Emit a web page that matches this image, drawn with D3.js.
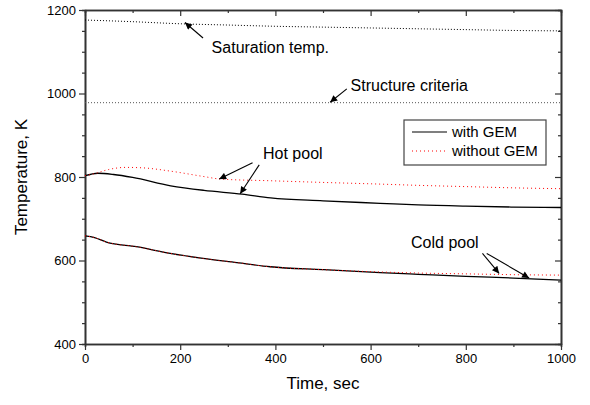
<!DOCTYPE html>
<html>
<head>
<meta charset="utf-8">
<script src="https://cdn.jsdelivr.net/npm/d3@7/dist/d3.min.js"></script>
<style>
  html, body { margin: 0; padding: 0; background: #fff; }
  svg { display: block; font-family: "Liberation Sans", Arial, sans-serif; }
</style>
</head>
<body>
<svg id="chart" width="590" height="405"></svg>
<script>
// Time axis samples (s) and temperatures (K)
const satTime   = [0, 100, 200, 300, 400, 500, 600, 700, 800, 900, 1000];
const satTemp   = [1176, 1172, 1167, 1164, 1161, 1159, 1157, 1155, 1153, 1151, 1150];

const structTime = [0, 1000];
const structTemp = [978, 978];

const hotTimeGem  = [0, 27, 60, 100, 180, 250, 330, 390, 500, 620, 700, 800, 900, 1000];
const hotWithGem  = [803, 809, 806, 799, 779, 768, 759, 750, 743, 737, 733, 730, 728, 727];

const hotTimeNo   = [0, 20, 50, 85, 120, 180, 250, 285, 390, 500, 620, 700, 800, 900, 1000];
const hotNoGem    = [803, 808, 818, 823, 822, 814, 801, 795, 791, 787, 783, 780, 777, 774, 772];

const coldTime    = [0, 20, 45, 108, 179, 248, 319, 389, 500, 620, 700, 800, 900, 1000];
const coldWithGem = [659, 655, 644, 633, 617, 605, 595, 585, 578, 571, 567, 562, 558, 553];
const coldNoGem   = [659, 655, 644, 633, 617, 605, 595, 585, 578, 572.5, 570, 568, 566, 565];

const xTicks = [0, 200, 400, 600, 800, 1000];
const yTicks = [400, 600, 800, 1000, 1200];

const legendLabels = ["with GEM", "without GEM"];
const noteLabels = ["Saturation temp.", "Structure criteria", "Hot pool", "Cold pool"];

const svg = d3.select("#chart");
const margin = { left: 85, right: 29, top: 10, bottom: 61 };
const W = 590, H = 405;
const x = d3.scaleLinear().domain([0, 1000]).range([margin.left, W - margin.right]);
const y = d3.scaleLinear().domain([400, 1200]).range([H - margin.bottom, margin.top]);

const xMinor = d3.range(100, 1000, 200);
const yMinor = d3.range(450, 1200, 50).filter(v => v % 200 !== 0);
const fmt = d3.format("d");

const axisColor = "#333";

// frame axes: bottom / left with labels, top / right mirrored inward
svg.append("g").attr("transform", `translate(0,${y(400)})`)
  .call(d3.axisBottom(x).tickValues(xTicks).tickFormat(fmt).tickSize(6).tickSizeOuter(0).tickPadding(4));
svg.append("g").attr("transform", `translate(0,${y(400)})`)
  .call(d3.axisBottom(x).tickValues(xMinor).tickSize(3).tickFormat(""));
svg.append("g").attr("transform", `translate(${x(0)},0)`)
  .call(d3.axisLeft(y).tickValues(yTicks).tickFormat(fmt).tickSize(6).tickSizeOuter(0).tickPadding(3));
svg.append("g").attr("transform", `translate(${x(0)},0)`)
  .call(d3.axisLeft(y).tickValues(yMinor).tickSize(3).tickFormat(""));
svg.append("g").attr("transform", `translate(0,${y(1200)})`)
  .call(d3.axisBottom(x).tickValues(xTicks).tickSize(6).tickSizeOuter(0).tickFormat(""));
svg.append("g").attr("transform", `translate(0,${y(1200)})`)
  .call(d3.axisBottom(x).tickValues(xMinor).tickSize(3).tickFormat(""));
svg.append("g").attr("transform", `translate(${x(1000)},0)`)
  .call(d3.axisLeft(y).tickValues(yTicks).tickSize(6).tickSizeOuter(0).tickFormat(""));
svg.append("g").attr("transform", `translate(${x(1000)},0)`)
  .call(d3.axisLeft(y).tickValues(yMinor).tickSize(3).tickFormat(""));

svg.selectAll(".domain").attr("stroke", axisColor).attr("stroke-width", 1.6);
svg.selectAll(".tick line").attr("stroke", axisColor).attr("stroke-width", 1.2);
svg.selectAll(".tick text").attr("fill", "#000").style("font-size", "13px")
  .style("font-family", "'Liberation Sans', Arial, sans-serif");

// axis titles
svg.append("text").attr("x", (x(0) + x(1000)) / 2).attr("y", 389)
  .attr("text-anchor", "middle").style("font-size", "17px").text("Time, sec");
svg.append("text").attr("transform", `translate(27,${(y(400) + y(1200)) / 2}) rotate(-90)`)
  .attr("text-anchor", "middle").style("font-size", "17px").text("Temperature, K");

// series
const line = d3.line().x(d => x(d[0])).y(d => y(d[1])).curve(d3.curveMonotoneX);
const zip = (a, b) => a.map((t, i) => [t, b[i]]);
const plot = svg.append("g");

plot.append("path").datum(zip(satTime, satTemp)).attr("d", line)
  .attr("fill", "none").attr("stroke", "#000").attr("stroke-width", 1).attr("stroke-dasharray", "1,2");
plot.append("path").datum(zip(structTime, structTemp)).attr("d", line)
  .attr("fill", "none").attr("stroke", "#555").attr("stroke-width", 1).attr("stroke-dasharray", "1,2");

plot.append("path").datum(zip(hotTimeGem, hotWithGem)).attr("d", line)
  .attr("fill", "none").attr("stroke", "#000").attr("stroke-width", 1.3);
plot.append("path").datum(zip(coldTime, coldWithGem)).attr("d", line)
  .attr("fill", "none").attr("stroke", "#000").attr("stroke-width", 1.3);
plot.append("path").datum(zip(hotTimeNo, hotNoGem)).attr("d", line)
  .attr("fill", "none").attr("stroke", "#ff0000").attr("stroke-width", 1).attr("stroke-dasharray", "1,3");
plot.append("path").datum(zip(coldTime, coldNoGem)).attr("d", line)
  .attr("fill", "none").attr("stroke", "#ff0000").attr("stroke-width", 1).attr("stroke-dasharray", "1,3");

// arrow marker
svg.append("defs").append("marker").attr("id", "arrow")
  .attr("viewBox", "0 0 10 10").attr("refX", 10).attr("refY", 5)
  .attr("markerWidth", 9).attr("markerHeight", 7).attr("markerUnits", "userSpaceOnUse")
  .attr("orient", "auto")
  .append("path").attr("d", "M0,0 L10,5 L0,10 z").attr("fill", "#000");

function arrow(t0, v0, t1, v1) {
  svg.append("line").attr("x1", x(t0)).attr("y1", y(v0)).attr("x2", x(t1)).attr("y2", y(v1))
    .attr("stroke", "#000").attr("stroke-width", 1.1).attr("marker-end", "url(#arrow)");
}
function note(t, v, txt) {
  svg.append("text").attr("x", x(t)).attr("y", y(v)).attr("dy", "0.35em")
    .style("font-size", "16px").text(txt);
}

note(266, 1111, noteLabels[0]);
arrow(248, 1133, 210, 1170);
note(558, 1020, noteLabels[1]);
arrow(550, 1011, 515, 979);
note(374, 857, noteLabels[2]);
arrow(352, 834, 282, 795);
arrow(366, 829, 326, 760);
note(685, 644, noteLabels[3]);
arrow(835, 617, 870, 569);
arrow(844, 617, 933, 558);

// legend
const lg = svg.append("g");
lg.append("rect").attr("x", 404).attr("y", 120).attr("width", 142).attr("height", 45)
  .attr("fill", "#fff").attr("stroke", "#444").attr("stroke-width", 1.2);
lg.append("line").attr("x1", 412).attr("x2", 447).attr("y1", 132).attr("y2", 132)
  .attr("stroke", "#000").attr("stroke-width", 1.2);
lg.append("line").attr("x1", 412).attr("x2", 447).attr("y1", 151).attr("y2", 151)
  .attr("stroke", "#ff0000").attr("stroke-width", 1).attr("stroke-dasharray", "1,3");
lg.selectAll("text.lab").data(legendLabels).join("text").attr("class", "lab")
  .attr("x", 452).attr("y", (d, i) => 132 + i * 19).attr("dy", "0.35em")
  .style("font-size", "15px").text(d => d);
</script>
</body>
</html>
